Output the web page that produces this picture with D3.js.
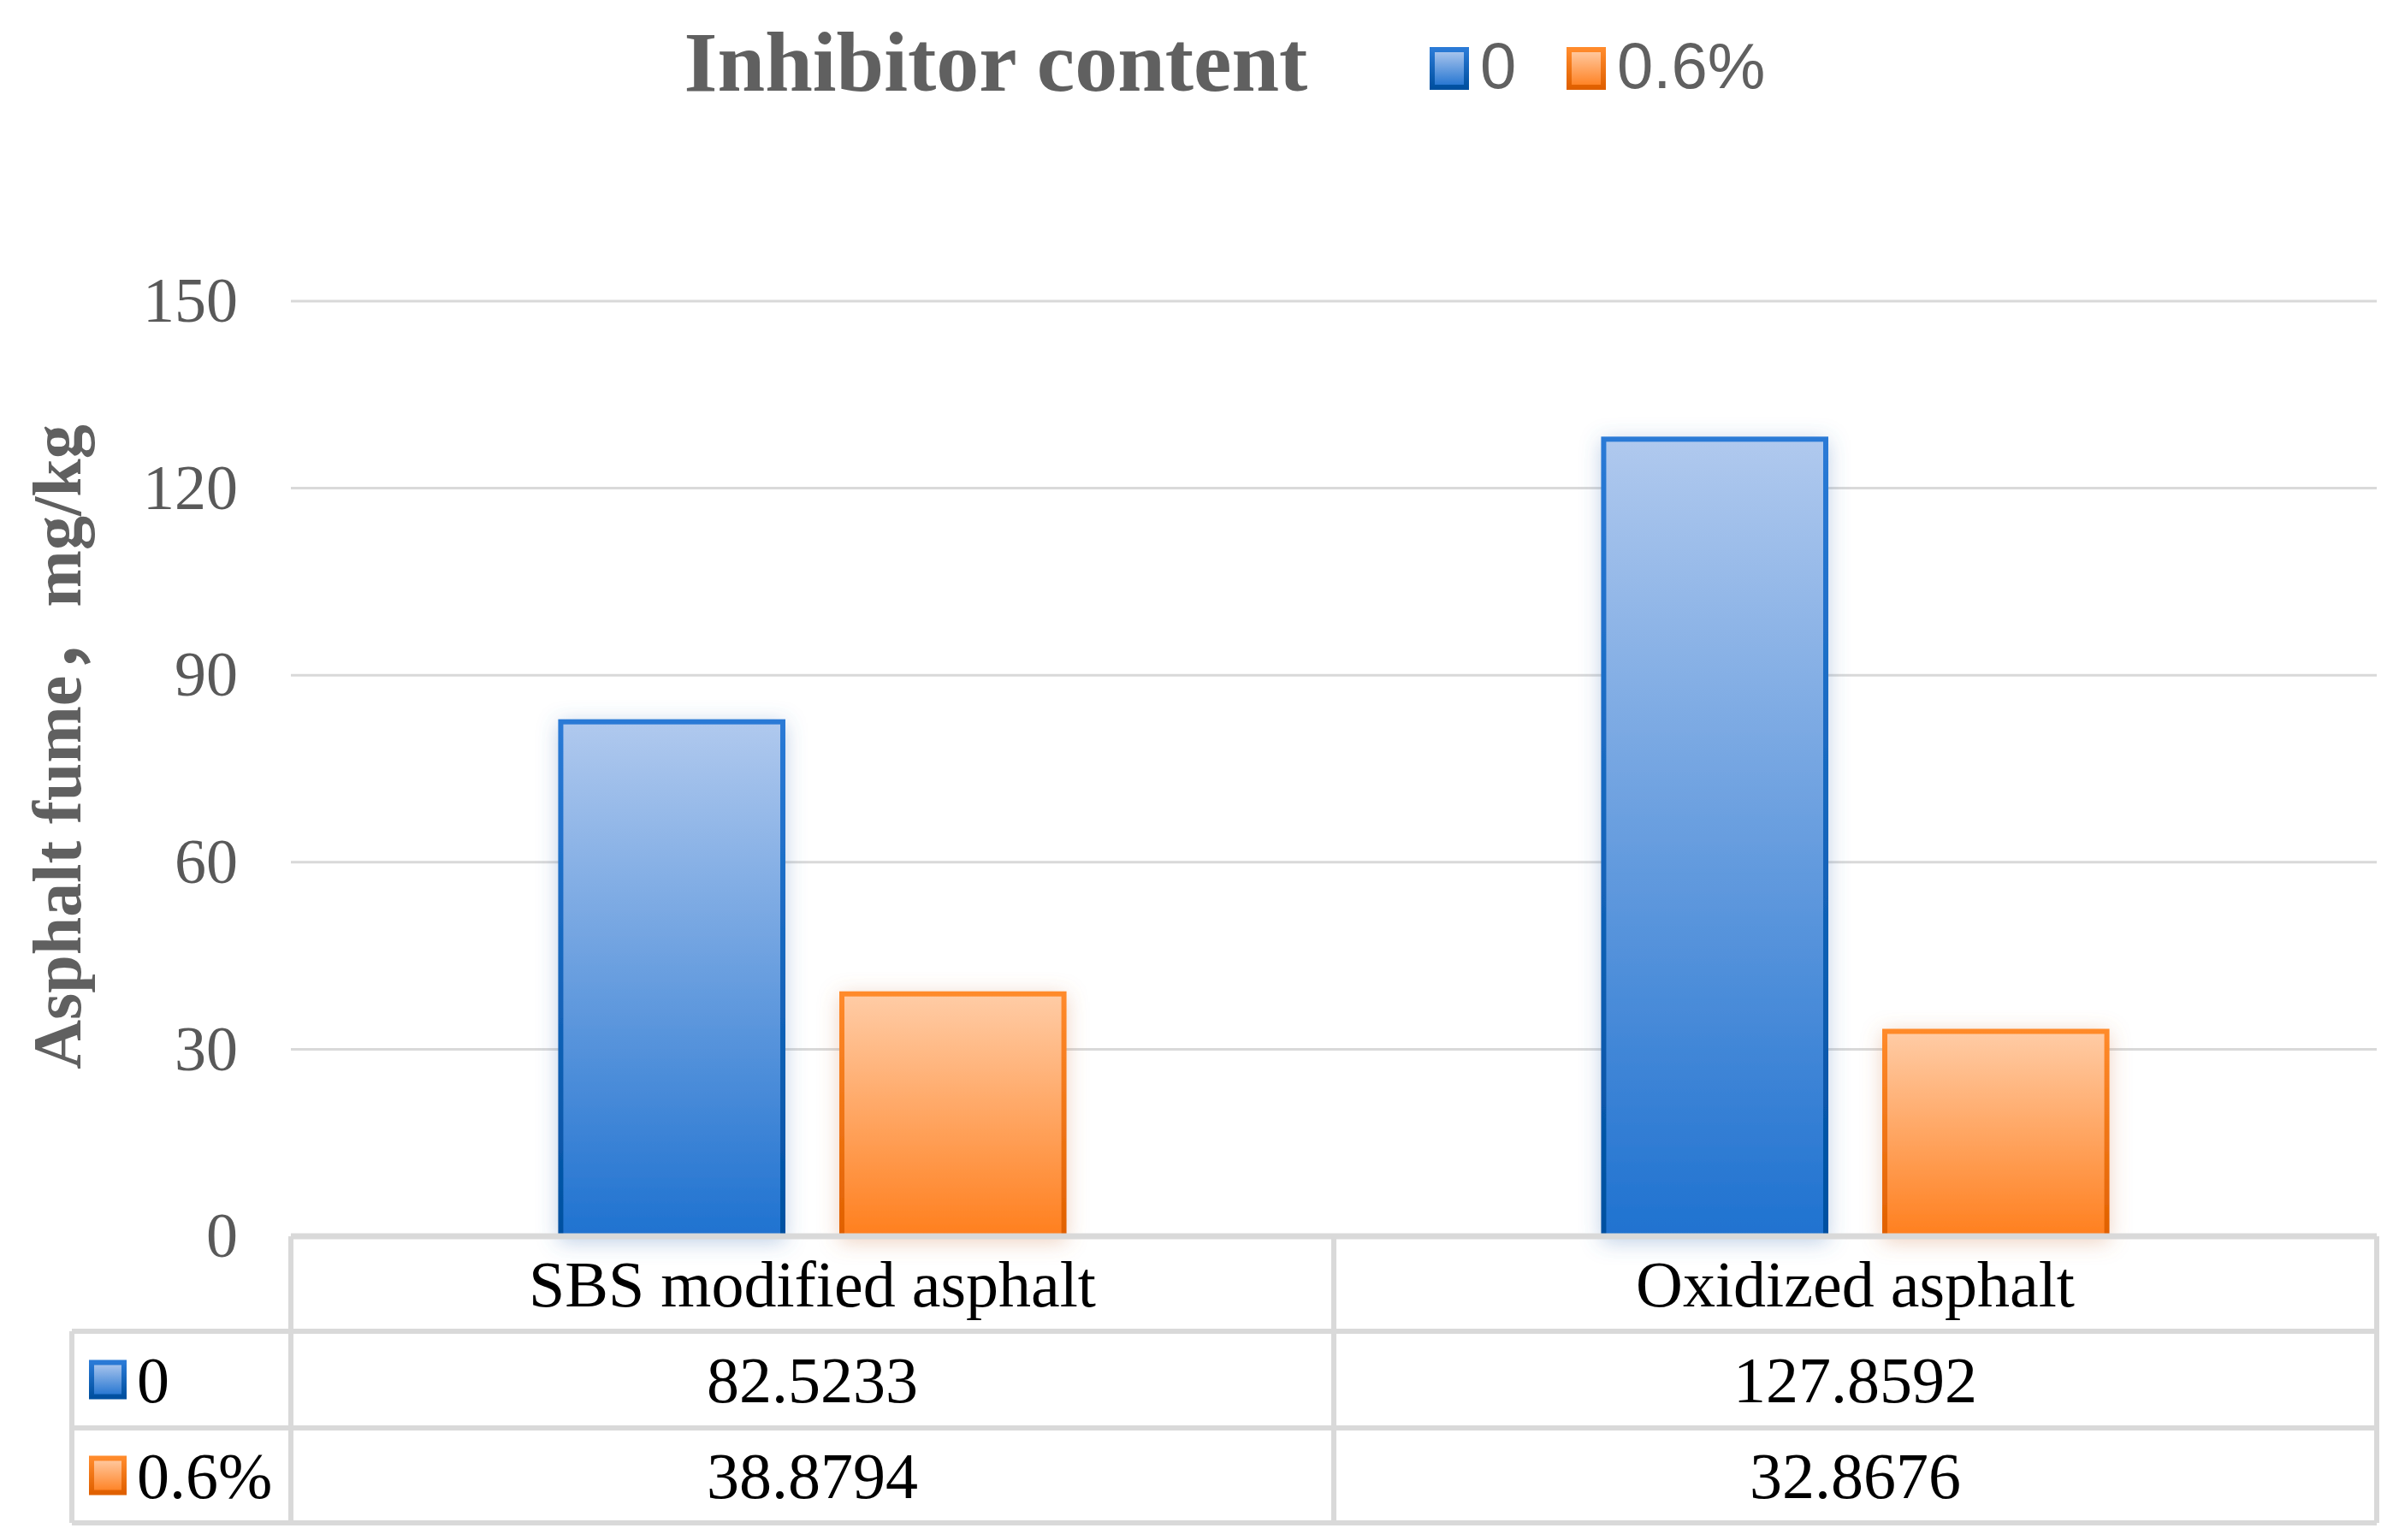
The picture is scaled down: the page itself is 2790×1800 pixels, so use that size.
<!DOCTYPE html>
<html>
<head>
<meta charset="utf-8">
<script src="https://cdn.jsdelivr.net/npm/d3@7"></script>
<style>
  body { margin: 0; background: #fff; }
  text { font-family: "Liberation Serif", "Times New Roman", serif; }
</style>
</head>
<body>
<script>
var categories = ["SBS modified asphalt", "Oxidized asphalt"];
var seriesNames = ["0", "0.6%"];
var values0 = [82.5233, 127.8592];
var values06 = [38.8794, 32.8676];
var yTicks = [0, 30, 60, 90, 120, 150];

var W = 2790, H = 1800;
var plotLeft = 340, plotRight = 2778, plotTop = 352, plotBottom = 1445;
var rowY = [1445, 1556, 1669, 1780];
var keyX = 84;
var lineColor = "#d9d9d9";

var svg = d3.select("body").append("svg")
    .attr("width", W)
    .attr("height", H);

svg.append("rect").attr("width", W).attr("height", H).attr("fill", "#fff");

var defs = svg.append("defs");
var colors = [
  { fillTop: "#b0c9ee", fillBot: "#1f72d0", strokeTop: "#2a7ad6", strokeBot: "#0050a0", glow: "#4a7ab8" },
  { fillTop: "#ffcca6", fillBot: "#ff7f1e", strokeTop: "#ff8a2b", strokeBot: "#e06000", glow: "#d08050" }
];

function addGrad(id, c1, c2) {
  var g = defs.append("linearGradient").attr("id", id)
      .attr("x1", 0).attr("y1", 0).attr("x2", 0).attr("y2", 1);
  g.append("stop").attr("offset", "0%").attr("stop-color", c1);
  g.append("stop").attr("offset", "100%").attr("stop-color", c2);
}
colors.forEach(function(c, i) {
  addGrad("fill" + i, c.fillTop, c.fillBot);
  addGrad("stroke" + i, c.strokeTop, c.strokeBot);
  var f = defs.append("filter").attr("id", "glow" + i)
      .attr("x", "-30%").attr("y", "-10%").attr("width", "160%").attr("height", "130%");
  f.append("feDropShadow").attr("dx", 0).attr("dy", 4).attr("stdDeviation", 12)
      .attr("flood-color", c.glow).attr("flood-opacity", 0.35);
});

var y = d3.scaleLinear().domain([0, 150]).range([plotBottom, plotTop]);
var x0 = d3.scaleBand().domain(categories).range([plotLeft, plotRight]);
var x1 = d3.scaleBand().domain(seriesNames).range([0, x0.bandwidth()])
    .paddingInner(0.21).paddingOuter(0.96);

// gridlines
svg.append("g").selectAll("line")
  .data(yTicks.filter(function(d) { return d > 0; }))
  .enter().append("line")
  .attr("x1", plotLeft).attr("x2", plotRight)
  .attr("y1", function(d) { return y(d); })
  .attr("y2", function(d) { return y(d); })
  .attr("stroke", lineColor).attr("stroke-width", 3);

// y axis labels
var yAxis = d3.axisLeft(y).tickValues(yTicks).tickSize(0).tickPadding(62);
var yg = svg.append("g").attr("transform", "translate(" + plotLeft + ",0)").call(yAxis);
yg.select(".domain").remove();
yg.selectAll("text")
  .style("font-family", '"Liberation Serif", serif')
  .attr("font-size", 74).attr("fill", "#595959");

// bars
var series = [values0, values06];
series.forEach(function(vals, si) {
  svg.append("g").selectAll("rect")
    .data(vals)
    .enter().append("rect")
    .attr("x", function(d, i) { return x0(categories[i]) + x1(seriesNames[si]); })
    .attr("y", function(d) { return y(d); })
    .attr("width", x1.bandwidth())
    .attr("height", function(d) { return y(0) - y(d); })
    .attr("fill", "url(#fill" + si + ")")
    .attr("stroke", "url(#stroke" + si + ")")
    .attr("stroke-width", 6)
    .attr("filter", "url(#glow" + si + ")");
});

// data table
var tbl = svg.append("g");
tbl.append("line").attr("x1", plotLeft).attr("x2", plotRight).attr("y1", rowY[0]).attr("y2", rowY[0])
  .attr("stroke", lineColor).attr("stroke-width", 7);
rowY.slice(1).forEach(function(ry) {
  tbl.append("line").attr("x1", keyX).attr("x2", plotRight).attr("y1", ry).attr("y2", ry)
    .attr("stroke", lineColor).attr("stroke-width", 6);
});
tbl.append("line").attr("x1", keyX).attr("x2", keyX).attr("y1", rowY[1]).attr("y2", rowY[3])
  .attr("stroke", lineColor).attr("stroke-width", 6);
[plotLeft, x0(categories[1]), plotRight].forEach(function(vx) {
  tbl.append("line").attr("x1", vx).attr("x2", vx).attr("y1", rowY[0]).attr("y2", rowY[3])
    .attr("stroke", lineColor).attr("stroke-width", 6);
});

tbl.selectAll(".cat").data(categories).enter().append("text")
  .attr("x", function(d) { return x0(d) + x0.bandwidth() / 2; })
  .attr("y", (rowY[0] + rowY[1]) / 2 + 26)
  .attr("text-anchor", "middle").attr("font-size", 76).attr("fill", "#000")
  .text(function(d) { return d; });

series.forEach(function(vals, si) {
  var cy = (rowY[si + 1] + rowY[si + 2]) / 2;
  tbl.selectAll(".v" + si).data(vals).enter().append("text")
    .attr("x", function(d, i) { return x0(categories[i]) + x0.bandwidth() / 2; })
    .attr("y", cy + 26)
    .attr("text-anchor", "middle").attr("font-size", 76).attr("fill", "#000")
    .text(function(d) { return String(d); });
  tbl.append("rect")
    .attr("x", 107).attr("y", cy - 20).attr("width", 38).attr("height", 40)
    .attr("fill", "url(#fill" + si + ")").attr("stroke", "url(#stroke" + si + ")").attr("stroke-width", 6);
  tbl.append("text")
    .attr("x", 160).attr("y", cy + 26)
    .attr("font-size", 76).attr("fill", "#000")
    .text(seriesNames[si]);
});

// title + legend
svg.append("text")
  .attr("x", 1164).attr("y", 106)
  .attr("text-anchor", "middle")
  .attr("font-size", 100).attr("font-weight", "bold").attr("fill", "#606060")
  .text("Inhibitor content");

var legX = [1674, 1834];
seriesNames.forEach(function(name, si) {
  svg.append("rect")
    .attr("x", legX[si]).attr("y", 58).attr("width", 40).attr("height", 44)
    .attr("fill", "url(#fill" + si + ")").attr("stroke", "url(#stroke" + si + ")").attr("stroke-width", 6);
  svg.append("text")
    .attr("x", legX[si] + 56).attr("y", 103)
    .style("font-family", '"Liberation Sans", Arial, sans-serif')
    .attr("font-size", 76).attr("fill", "#606060")
    .text(name);
});

// y axis title (full-width comma from the CJK font)
var yt = svg.append("text")
  .attr("transform", "translate(94," + 873 + ") rotate(-90)")
  .attr("text-anchor", "middle")
  .attr("font-size", 80).attr("font-weight", "bold").attr("fill", "#606060");
yt.append("tspan").text("Asphalt fume");
yt.append("tspan").style("font-family", '"Noto Sans CJK SC", sans-serif').text("，");
yt.append("tspan").text("mg/kg");
</script>
</body>
</html>
